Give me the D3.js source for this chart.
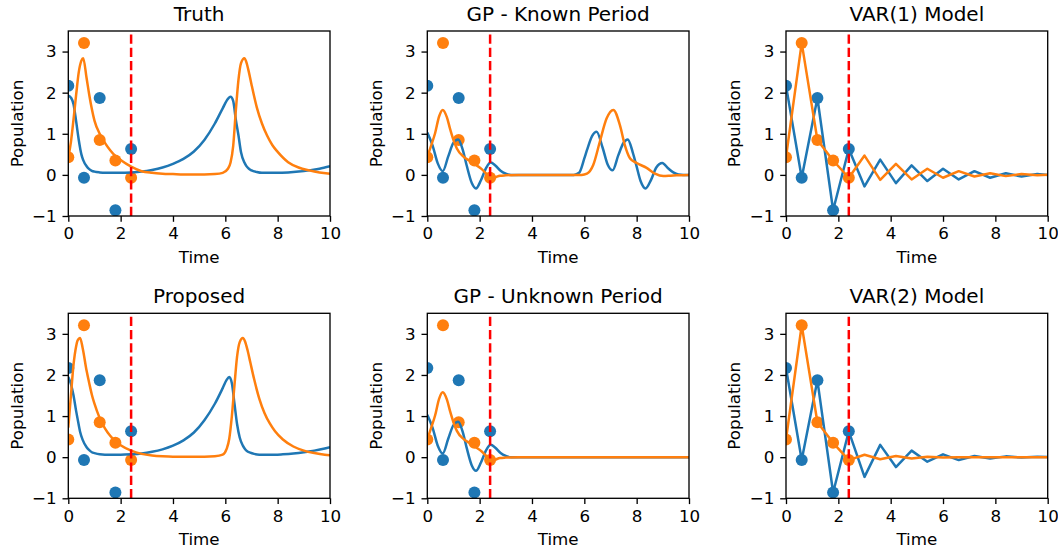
<!DOCTYPE html>
<html>
<head>
<meta http-equiv="Content-type" content="text/html; charset=utf-8">
<title>Population forecasts</title>
<script src="https://d3js.org/d3.v7.min.js"></script>
<style>
  body { margin: 0; background: #fff; }
  svg { display: block; font-family: "DejaVu Sans", sans-serif; }
</style>
</head>
<body>
<svg id="chart" width="1058" height="548"></svg>
<script>

// OBSERVED POINTS (same in every panel)
var obsTime   = [0, 0.6, 1.2, 1.8, 2.4];
var obsBlue   = [2.17, -0.07, 1.87, -0.86, 0.63];
var obsOrange = [0.43, 3.21, 0.85, 0.35, -0.07];
var cutoff = 2.4;

// TRUTH
var truthTime = [0, 0.1, 0.2, 0.3, 0.4, 0.5, 0.57, 0.7, 0.8, 0.9, 1.0, 1.2, 1.4, 1.6, 1.8, 2.0,
  2.4, 2.8, 3.2, 3.6, 4.0, 4.4, 4.8, 5.2, 5.6, 5.9, 6.1, 6.2, 6.3, 6.4, 6.5, 6.6, 6.73, 6.8, 6.9, 7.0,
  7.2, 7.4, 7.6, 7.8, 8.0, 8.4, 8.8, 9.2, 9.6, 10.0];
var truthBlue = [1.93, 1.88, 1.72, 1.3, 0.85, 0.5, 0.36, 0.21, 0.14, 0.1, 0.08, 0.06, 0.05, 0.05, 0.05, 0.05,
  0.06, 0.08, 0.12, 0.18, 0.27, 0.39, 0.57, 0.85, 1.25, 1.62, 1.85, 1.9, 1.8, 1.35, 0.97, 0.55, 0.3, 0.22, 0.15, 0.11,
  0.07, 0.05, 0.05, 0.05, 0.05, 0.06, 0.08, 0.11, 0.15, 0.21];
var truthOrange = [0.43, 0.8, 1.35, 1.95, 2.5, 2.78, 2.84, 2.35, 1.95, 1.6, 1.32, 1.0, 0.78, 0.6, 0.46, 0.36,
  0.2, 0.09, 0.05, 0.03, 0.02, 0.01, 0.01, 0.01, 0.02, 0.05, 0.15, 0.3, 0.7, 1.55, 2.3, 2.72, 2.84, 2.75, 2.5, 2.2,
  1.65, 1.25, 0.95, 0.72, 0.56, 0.31, 0.18, 0.11, 0.06, 0.03];

// PROPOSED
var propTime = [0, 0.1, 0.2, 0.3, 0.35, 0.45, 0.55, 0.7, 0.8, 0.9, 1.0, 1.2, 1.4, 1.6, 1.8, 2.0,
  2.4, 2.8, 3.2, 3.6, 4.0, 4.4, 4.8, 5.2, 5.6, 5.9, 6.05, 6.15, 6.25, 6.35, 6.45, 6.55, 6.67, 6.75, 6.85, 6.95,
  7.1, 7.3, 7.5, 7.7, 7.9, 8.2, 8.6, 9.0, 9.4, 9.8, 10.0];
var propBlue = [1.95, 1.78, 1.5, 1.12, 0.95, 0.62, 0.42, 0.24, 0.17, 0.12, 0.1, 0.07, 0.06, 0.06, 0.06, 0.06,
  0.07, 0.09, 0.13, 0.19, 0.28, 0.41, 0.6, 0.9, 1.3, 1.68, 1.88, 1.95, 1.8, 1.3, 0.8, 0.48, 0.28, 0.2, 0.14, 0.11,
  0.08, 0.06, 0.06, 0.06, 0.06, 0.07, 0.09, 0.12, 0.16, 0.21, 0.24];
var propOrange = [0.72, 1.5, 2.25, 2.7, 2.83, 2.9, 2.65, 2.1, 1.8, 1.52, 1.3, 0.95, 0.7, 0.52, 0.39, 0.29,
  0.16, 0.08, 0.04, 0.02, 0.01, 0.01, 0.01, 0.01, 0.02, 0.06, 0.2, 0.45, 1.0, 1.75, 2.45, 2.8, 2.9, 2.82, 2.6, 2.32,
  1.9, 1.42, 1.07, 0.82, 0.63, 0.43, 0.26, 0.16, 0.1, 0.06, 0.05];

// GP - KNOWN PERIOD
var gpBlueTime = [0, 0.2, 0.4, 0.59, 0.8, 1.0, 1.18, 1.35, 1.5, 1.7, 1.86, 2.05, 2.25, 2.42, 2.6, 2.8, 3.0, 3.2,
  5.6, 5.8, 6.0, 6.1, 6.3, 6.47, 6.7, 6.9, 7.08, 7.3, 7.5, 7.66, 7.85, 8.0, 8.15, 8.34, 8.55, 8.75, 8.98,
  9.2, 9.4, 9.6, 9.8, 10.0];
var gpKnownBlue = [1.03, 0.72, 0.28, 0.09, 0.45, 0.78, 0.86, 0.62, 0.24, -0.2, -0.33, -0.13, 0.17, 0.3, 0.23, 0.1, 0.03, 0.0,
  0.0, 0.05, 0.4, 0.6, 0.95, 1.05, 0.66, 0.24, 0.11, 0.48, 0.78, 0.86, 0.55, 0.2, -0.15, -0.33, -0.12, 0.18, 0.29,
  0.16, 0.06, 0.01, 0.0, 0.0];
var gpOrangeTime = [0, 0.15, 0.3, 0.45, 0.59, 0.75, 0.87, 1.0, 1.13, 1.39, 1.6, 1.76, 2.08, 2.33, 2.46, 2.6, 2.78, 3.0, 3.5,
  5.9, 6.1, 6.34, 6.59, 6.85, 7.11, 7.36, 7.55, 7.75, 8.0, 8.38, 8.7, 9.02, 9.3, 9.53, 10.0];
var gpKnownOrange = [0.44, 0.72, 1.02, 1.42, 1.58, 1.4, 1.12, 0.85, 0.64, 0.44, 0.35, 0.28, 0.14, -0.02, -0.09, -0.06, -0.02, -0.01, 0.0,
  0.0, 0.03, 0.24, 0.8, 1.37, 1.58, 1.21, 0.72, 0.4, 0.29, 0.17, 0.03, -0.03, -0.02, -0.01, 0.0];

// GP - UNKNOWN PERIOD
var gpUnkBlueTime = [0, 0.2, 0.4, 0.59, 0.8, 1.0, 1.18, 1.35, 1.5, 1.7, 1.86, 2.05, 2.25, 2.42, 2.6, 2.8, 3.0, 3.2, 10.0];
var gpUnkBlue = [1.03, 0.72, 0.28, 0.09, 0.45, 0.78, 0.86, 0.62, 0.24, -0.2, -0.33, -0.13, 0.17, 0.3, 0.23, 0.1, 0.03, 0.0, 0.0];
var gpUnkOrangeTime = [0, 0.15, 0.3, 0.45, 0.59, 0.75, 0.87, 1.0, 1.13, 1.39, 1.6, 1.76, 2.08, 2.33, 2.46, 2.6, 2.78, 3.0, 3.5, 10.0];
var gpUnkOrange = [0.44, 0.72, 1.02, 1.42, 1.58, 1.4, 1.12, 0.85, 0.64, 0.44, 0.35, 0.28, 0.14, -0.02, -0.09, -0.06, -0.02, -0.01, 0.0, 0.0];

// VAR MODELS (one step = 0.6)
var varTime = [0, 0.6, 1.2, 1.8, 2.4, 3.0, 3.6, 4.2, 4.8, 5.4, 6.0, 6.6, 7.2, 7.8, 8.4, 9.0, 9.6, 10.2];
var var1Blue   = [2.17, -0.07, 1.87, -0.86, 0.63, -0.28, 0.37, -0.2, 0.23, -0.15, 0.15, -0.11, 0.09, -0.07, 0.04, -0.04, 0.02, -0.01];
var var1Orange = [0.43, 3.21, 0.85, 0.35, -0.07, 0.47, -0.12, 0.27, -0.11, 0.15, -0.07, 0.09, -0.04, 0.04, -0.03, 0.02, -0.01, 0.01];
var var2Blue   = [2.17, -0.07, 1.87, -0.86, 0.63, -0.48, 0.3, -0.24, 0.16, -0.11, 0.07, -0.07, 0.03, -0.03, 0.02, -0.01, 0.01, 0.0];
var var2Orange = [0.43, 3.21, 0.85, 0.35, -0.07, 0.06, -0.05, 0.03, -0.03, 0.01, -0.01, 0.0, 0.0, 0.0, 0.0, 0.0, 0.0, 0.0];

var xTicks = [0, 2, 4, 6, 8, 10];
var yTicks = [-1, 0, 1, 2, 3];
var titles = ["Truth", "GP - Known Period", "VAR(1) Model", "Proposed", "GP - Unknown Period", "VAR(2) Model"];

var BLUE = "#1f77b4", ORANGE = "#ff7f0e";

function pairs(t, v) { return t.map(function (d, i) { return [d, v[i]]; }); }

var panels = [
  { blue: pairs(truthTime, truthBlue), orange: pairs(truthTime, truthOrange), smooth: true },
  { blue: pairs(gpBlueTime, gpKnownBlue), orange: pairs(gpOrangeTime, gpKnownOrange), smooth: true },
  { blue: pairs(varTime, var1Blue), orange: pairs(varTime, var1Orange), smooth: false },
  { blue: pairs(propTime, propBlue), orange: pairs(propTime, propOrange), smooth: true },
  { blue: pairs(gpUnkBlueTime, gpUnkBlue), orange: pairs(gpUnkOrangeTime, gpUnkOrange), smooth: true },
  { blue: pairs(varTime, var2Blue), orange: pairs(varTime, var2Orange), smooth: false }
];

// LAYOUT
var lefts = [68.3, 427.3, 786];
var tops = [31, 313.3];
var W = 261.7, H = 185;
var FS = 16.7, TICK = 5.8;

var svg = d3.select("#chart");
var x = d3.scaleLinear().domain([0, 10]).range([0, W]);
var y = d3.scaleLinear().domain([-1, 3.5]).range([H, 0]);

panels.forEach(function (p, i) {
  var col = i % 3, row = Math.floor(i / 3);
  var g = svg.append("g").attr("transform", "translate(" + lefts[col] + "," + tops[row] + ")");

  svg.append("clipPath").attr("id", "clip" + i)
    .append("rect").attr("width", W).attr("height", H);

  var plot = g.append("g").attr("clip-path", "url(#clip" + i + ")");

  // observed points sit under the lines (matplotlib scatter zorder)
  plot.selectAll(".ob").data(pairs(obsTime, obsBlue)).enter().append("circle")
    .attr("cx", function (d) { return x(d[0]); }).attr("cy", function (d) { return y(d[1]); })
    .attr("r", 6).attr("fill", BLUE);
  plot.selectAll(".oo").data(pairs(obsTime, obsOrange)).enter().append("circle")
    .attr("cx", function (d) { return x(d[0]); }).attr("cy", function (d) { return y(d[1]); })
    .attr("r", 6).attr("fill", ORANGE);

  var line = d3.line()
    .x(function (d) { return x(d[0]); })
    .y(function (d) { return y(d[1]); })
    .curve(p.smooth ? d3.curveMonotoneX : d3.curveLinear);

  plot.append("path").attr("d", line(p.blue)).attr("fill", "none")
    .attr("stroke", BLUE).attr("stroke-width", 2.5).attr("stroke-linejoin", "round");
  plot.append("path").attr("d", line(p.orange)).attr("fill", "none")
    .attr("stroke", ORANGE).attr("stroke-width", 2.5).attr("stroke-linejoin", "round");

  // end of observed window
  plot.append("line")
    .attr("x1", x(cutoff)).attr("x2", x(cutoff)).attr("y1", H).attr("y2", 0)
    .attr("stroke", "#ff0000").attr("stroke-width", 2.5).attr("stroke-dasharray", "9.25,4");

  // AXES
  var xa = g.append("g").attr("transform", "translate(0," + H + ")")
    .call(d3.axisBottom(x).tickValues(xTicks).tickSize(TICK).tickPadding(TICK).tickFormat(d3.format("d")));
  var ya = g.append("g")
    .call(d3.axisLeft(y).tickValues(yTicks).tickSize(TICK).tickPadding(TICK).tickFormat(d3.format("d")));
  [xa, ya].forEach(function (a) {
    a.select(".domain").remove();
    a.selectAll("line").attr("stroke", "#000").attr("stroke-width", 1.33);
    a.selectAll("text").attr("fill", "#000").style("font-size", FS + "px").style("font-family", "DejaVu Sans");
  });

  g.append("rect").attr("width", W).attr("height", H)
    .attr("fill", "none").attr("stroke", "#000").attr("stroke-width", 1.33);

  g.append("text").attr("x", W / 2).attr("y", -10).attr("text-anchor", "middle")
    .style("font-size", "20px").text(titles[i]);

  g.append("text").attr("x", W / 2).attr("y", H + 46.5).attr("text-anchor", "middle")
    .style("font-size", FS + "px").text("Time");

  g.append("text").attr("transform", "translate(-45.6," + (H / 2) + ") rotate(-90)")
    .attr("text-anchor", "middle").style("font-size", FS + "px").text("Population");
});

</script>
</body>
</html>
